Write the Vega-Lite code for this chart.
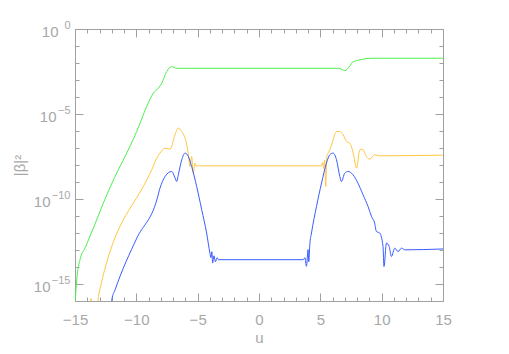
{
  "$schema": "https://vega.github.io/schema/vega-lite/v6.json",
  "width": 368,
  "height": 272,
  "autosize": "none",
  "padding": {"left": 75, "top": 29, "right": 66, "bottom": 53},
  "background": "white",
  "config": {
    "view": {"stroke": null},
    "axis": {
      "grid": false,
      "domainColor": "#a0a0a0",
      "tickColor": "#a0a0a0",
      "labelColor": "#a8a8a8",
      "titleColor": "#a8a8a8",
      "labelFont": "Liberation Sans",
      "titleFont": "Liberation Sans, DejaVu Sans",
      "labelFontSize": 15,
      "titleFontSize": 15,
      "titleFontWeight": "normal",
      "domainWidth": 1,
      "tickWidth": 1
    }
  },
  "datasets": {
    "curves": [
      {"series": "green", "u": -15.0, "b": 6.3e-17},
      {"series": "green", "u": -14.86, "b": 1.78e-15},
      {"series": "green", "u": -14.59, "b": 2.69e-14},
      {"series": "green", "u": -14.18, "b": 1.32e-13},
      {"series": "green", "u": -13.5, "b": 1.95e-12},
      {"series": "green", "u": -12.69, "b": 5.75e-11},
      {"series": "green", "u": -11.47, "b": 5.25e-9},
      {"series": "green", "u": -11.06, "b": 2.0e-8},
      {"series": "green", "u": -9.97, "b": 9.33e-7},
      {"series": "green", "u": -9.16, "b": 2.69e-5},
      {"series": "green", "u": -8.62, "b": 1.66e-4},
      {"series": "green", "u": -8.21, "b": 3.31e-4},
      {"series": "green", "u": -7.93, "b": 6.46e-4},
      {"series": "green", "u": -7.53, "b": 3.09e-3},
      {"series": "green", "u": -7.12, "b": 6.17e-3},
      {"series": "green", "u": -6.72, "b": 4.9e-3},
      {"series": "green", "u": 0.0, "b": 4.9e-3},
      {"series": "green", "u": 6.46, "b": 4.9e-3},
      {"series": "green", "u": 6.75, "b": 4.27e-3},
      {"series": "green", "u": 7.0, "b": 3.55e-3},
      {"series": "green", "u": 7.41, "b": 6.76e-3},
      {"series": "green", "u": 7.65, "b": 1.15e-2},
      {"series": "green", "u": 7.96, "b": 1.38e-2},
      {"series": "green", "u": 9.31, "b": 1.91e-2},
      {"series": "green", "u": 15.0, "b": 1.91e-2},

      {"series": "orange", "u": -13.72, "b": 3.16e-17},
      {"series": "orange", "u": -13.69, "b": 1.41e-16},
      {"series": "orange", "u": -13.66, "b": 3.16e-17},
      {"series": "orange", "u": -13.15, "b": 5.0e-17},
      {"series": "orange", "u": -13.09, "b": 1.86e-16},
      {"series": "orange", "u": -9.15, "b": 1.35e-9},
      {"series": "orange", "u": -8.74, "b": 5.25e-9},
      {"series": "orange", "u": -8.34, "b": 2.51e-8},
      {"series": "orange", "u": -8.07, "b": 5.01e-8},
      {"series": "orange", "u": -7.66, "b": 9.77e-8},
      {"series": "orange", "u": -7.25, "b": 8.51e-8},
      {"series": "orange", "u": -6.85, "b": 5.89e-7},
      {"series": "orange", "u": -6.58, "b": 1.48e-6},
      {"series": "orange", "u": -6.3, "b": 9.33e-7},
      {"series": "orange", "u": -5.95, "b": 2.4e-7},
      {"series": "orange", "u": -5.77, "b": 5.01e-8},
      {"series": "orange", "u": -5.63, "b": 8.13e-9},
      {"series": "orange", "u": -5.49, "b": 3.16e-8},
      {"series": "orange", "u": -5.36, "b": 3.31e-9},
      {"series": "orange", "u": -5.22, "b": 1.29e-8},
      {"series": "orange", "u": -5.08, "b": 8.13e-9},
      {"series": "orange", "u": -4.93, "b": 9.55e-9},
      {"series": "orange", "u": -4.8, "b": 8.91e-9},
      {"series": "orange", "u": 4.8, "b": 8.91e-9},
      {"series": "orange", "u": 5.09, "b": 8.91e-9},
      {"series": "orange", "u": 5.18, "b": 1.41e-8},
      {"series": "orange", "u": 5.27, "b": 6.31e-9},
      {"series": "orange", "u": 5.35, "b": 2.0e-8},
      {"series": "orange", "u": 5.44, "b": 5.5e-10},
      {"series": "orange", "u": 5.52, "b": 3.16e-8},
      {"series": "orange", "u": 5.63, "b": 5.01e-8},
      {"series": "orange", "u": 5.77, "b": 7.76e-8},
      {"series": "orange", "u": 6.04, "b": 3.02e-7},
      {"series": "orange", "u": 6.32, "b": 9.33e-7},
      {"series": "orange", "u": 6.59, "b": 9.33e-7},
      {"series": "orange", "u": 6.86, "b": 5.89e-7},
      {"series": "orange", "u": 7.14, "b": 2.4e-7},
      {"series": "orange", "u": 7.41, "b": 1.91e-7},
      {"series": "orange", "u": 7.68, "b": 5.01e-8},
      {"series": "orange", "u": 7.96, "b": 6.61e-9},
      {"series": "orange", "u": 8.21, "b": 7.76e-8},
      {"series": "orange", "u": 8.43, "b": 8.51e-8},
      {"series": "orange", "u": 8.76, "b": 3.16e-8},
      {"series": "orange", "u": 9.03, "b": 2.19e-8},
      {"series": "orange", "u": 9.43, "b": 3.98e-8},
      {"series": "orange", "u": 9.84, "b": 3.47e-8},
      {"series": "orange", "u": 15.0, "b": 3.8e-8},

      {"series": "blue", "u": -12.05, "b": 5.01e-17},
      {"series": "blue", "u": -12.0, "b": 1.2e-16},
      {"series": "blue", "u": -11.73, "b": 4.57e-16},
      {"series": "blue", "u": -9.96, "b": 5.01e-13},
      {"series": "blue", "u": -8.33, "b": 8.91e-11},
      {"series": "blue", "u": -8.07, "b": 4.37e-10},
      {"series": "blue", "u": -7.66, "b": 2.09e-9},
      {"series": "blue", "u": -7.12, "b": 4.17e-9},
      {"series": "blue", "u": -6.84, "b": 1.7e-9},
      {"series": "blue", "u": -6.71, "b": 1.07e-9},
      {"series": "blue", "u": -6.58, "b": 2.63e-9},
      {"series": "blue", "u": -6.3, "b": 2.0e-8},
      {"series": "blue", "u": -6.03, "b": 5.01e-8},
      {"series": "blue", "u": -5.76, "b": 3.16e-8},
      {"series": "blue", "u": -5.49, "b": 8.13e-9},
      {"series": "blue", "u": -5.08, "b": 5.37e-10},
      {"series": "blue", "u": -4.67, "b": 2.34e-11},
      {"series": "blue", "u": -4.27, "b": 1.0e-12},
      {"series": "blue", "u": -4.0, "b": 6.61e-14},
      {"series": "blue", "u": -3.92, "b": 3.55e-14},
      {"series": "blue", "u": -3.84, "b": 7.94e-14},
      {"series": "blue", "u": -3.78, "b": 1.7e-14},
      {"series": "blue", "u": -3.67, "b": 4.57e-14},
      {"series": "blue", "u": -3.55, "b": 2.04e-14},
      {"series": "blue", "u": -3.42, "b": 3.55e-14},
      {"series": "blue", "u": -3.31, "b": 2.69e-14},
      {"series": "blue", "u": 3.61, "b": 2.69e-14},
      {"series": "blue", "u": 3.74, "b": 3.55e-14},
      {"series": "blue", "u": 3.87, "b": 1.1e-14},
      {"series": "blue", "u": 4.0, "b": 1.05e-13},
      {"series": "blue", "u": 4.06, "b": 2.04e-14},
      {"series": "blue", "u": 4.14, "b": 2.04e-13},
      {"series": "blue", "u": 4.28, "b": 1.0e-12},
      {"series": "blue", "u": 4.69, "b": 3.72e-11},
      {"series": "blue", "u": 5.1, "b": 8.71e-10},
      {"series": "blue", "u": 5.5, "b": 1.29e-8},
      {"series": "blue", "u": 5.77, "b": 3.98e-8},
      {"series": "blue", "u": 6.04, "b": 5.01e-8},
      {"series": "blue", "u": 6.32, "b": 2.0e-8},
      {"series": "blue", "u": 6.59, "b": 2.09e-9},
      {"series": "blue", "u": 6.72, "b": 1.07e-9},
      {"series": "blue", "u": 6.99, "b": 3.31e-9},
      {"series": "blue", "u": 7.26, "b": 4.17e-9},
      {"series": "blue", "u": 7.67, "b": 2.63e-9},
      {"series": "blue", "u": 8.07, "b": 8.51e-10},
      {"series": "blue", "u": 8.48, "b": 1.78e-10},
      {"series": "blue", "u": 8.89, "b": 3.63e-11},
      {"series": "blue", "u": 9.17, "b": 9.33e-12},
      {"series": "blue", "u": 9.43, "b": 3.8e-12},
      {"series": "blue", "u": 9.57, "b": 1.23e-12},
      {"series": "blue", "u": 9.84, "b": 1.0e-12},
      {"series": "blue", "u": 10.11, "b": 1.62e-13},
      {"series": "blue", "u": 10.19, "b": 1.07e-14},
      {"series": "blue", "u": 10.39, "b": 2.57e-13},
      {"series": "blue", "u": 10.61, "b": 1.62e-13},
      {"series": "blue", "u": 10.8, "b": 4.17e-14},
      {"series": "blue", "u": 11.07, "b": 1.29e-13},
      {"series": "blue", "u": 11.34, "b": 8.13e-14},
      {"series": "blue", "u": 11.62, "b": 1.29e-13},
      {"series": "blue", "u": 11.88, "b": 1.02e-13},
      {"series": "blue", "u": 15.0, "b": 1.15e-13}
    ]
  },
  "layer": [
    {
      "data": {"name": "curves"},
      "mark": {"type": "line", "strokeWidth": 1, "clip": true, "interpolate": "monotone"},
      "encoding": {
        "x": {
          "field": "u", "type": "quantitative",
          "scale": {"domain": [-15, 15], "nice": false, "zero": false},
          "axis": {
            "orient": "bottom", "title": "u", "titlePadding": 3,
            "values": [-15,-14,-13,-12,-11,-10,-9,-8,-7,-6,-5,-4,-3,-2,-1,0,1,2,3,4,5,6,7,8,9,10,11,12,13,14,15],
            "labelExpr": "datum.value % 5 === 0 ? datum.label : ''",
            "tickSize": {"condition": {"test": "datum.value % 5 === 0", "value": -8}, "value": -4},
            "labelPadding": 19,
            "labelFlush": false
          }
        },
        "y": {
          "field": "b", "type": "quantitative",
          "scale": {"type": "log", "domain": [1e-16, 1], "nice": false},
          "axis": {
            "orient": "left", "title": "|β|²", "titlePadding": 6,
            "values": [1e-16,1e-15,1e-14,1e-13,1e-12,1e-11,1e-10,1e-9,1e-8,1e-7,1e-6,1e-5,1e-4,1e-3,1e-2,1e-1,1],
            "labelExpr": "round(log(datum.value)/LN10) % 5 === 0 && round(log(datum.value)/LN10) > -16 ? '10' : ''",
            "tickSize": {"condition": {"test": "round(log(datum.value)/LN10) % 5 === 0", "value": -8}, "value": -4},
            "labelPadding": {"condition": [{"test": "round(log(datum.value)/LN10) === 0", "value": 25}, {"test": "round(log(datum.value)/LN10) === -5", "value": 27}], "value": 33},
            "labelAlign": "right",
            "labelOffset": 2,
            "labelFlush": false
          }
        },
        "color": {
          "field": "series", "type": "nominal",
          "scale": {"domain": ["green", "orange", "blue"], "range": ["#4cf04c", "#ffc640", "#3a5cff"]},
          "legend": null
        }
      }
    },
    {
      "data": {"name": "curves"},
      "mark": {"type": "line", "opacity": 0},
      "encoding": {
        "x": {
          "field": "u", "type": "quantitative",
          "scale": {"domain": [-15, 15], "nice": false, "zero": false},
          "axis": {
            "orient": "top", "title": null, "labels": false,
            "values": [-15,-14,-13,-12,-11,-10,-9,-8,-7,-6,-5,-4,-3,-2,-1,0,1,2,3,4,5,6,7,8,9,10,11,12,13,14,15],
            "tickSize": {"condition": {"test": "datum.value % 5 === 0", "value": -8}, "value": -4}
          }
        },
        "y": {
          "field": "b", "type": "quantitative",
          "scale": {"type": "log", "domain": [1e-16, 1], "nice": false},
          "axis": {
            "orient": "right", "title": null, "labels": false,
            "values": [1e-16,1e-15,1e-14,1e-13,1e-12,1e-11,1e-10,1e-9,1e-8,1e-7,1e-6,1e-5,1e-4,1e-3,1e-2,1e-1,1],
            "tickSize": {"condition": {"test": "round(log(datum.value)/LN10) % 5 === 0", "value": -8}, "value": -4}
          }
        },
        "detail": {"field": "series", "type": "nominal"}
      }
    },
    {
      "data": {"name": "curves"},
      "mark": {"type": "line", "opacity": 0},
      "encoding": {
        "x": {
          "field": "u", "type": "quantitative",
          "scale": {"domain": [-15, 15], "nice": false, "zero": false},
          "axis": null
        },
        "y": {
          "field": "b", "type": "quantitative",
          "scale": {"type": "log", "domain": [1e-16, 1], "nice": false},
          "axis": {
            "orient": "left", "title": null, "ticks": false, "domain": false,
            "values": [1, 1e-5, 1e-10, 1e-15],
            "labelExpr": "round(log(datum.value)/LN10) === 0 ? '0' : '−' + abs(round(log(datum.value)/LN10))",
            "labelFontSize": 11,
            "labelAlign": "right",
            "labelPadding": 5,
            "labelOffset": -4,
            "labelFlush": false
          }
        },
        "detail": {"field": "series", "type": "nominal"}
      }
    }
  ],
  "resolve": {"scale": {"x": "independent", "y": "independent"}}
}
